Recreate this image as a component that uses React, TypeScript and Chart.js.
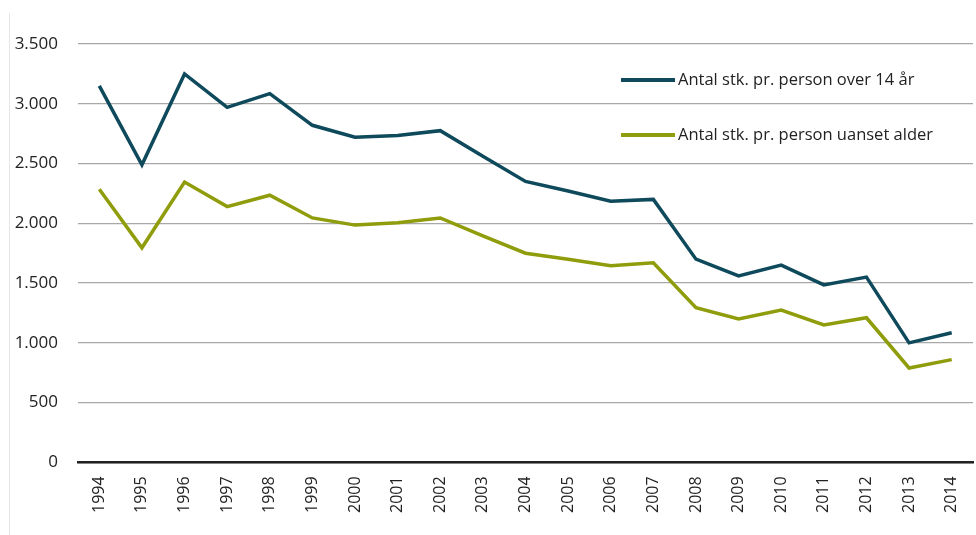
import React, { useEffect, useRef } from "react";
import { Chart, registerables } from "chart.js";

Chart.register(...registerables);

const years = ["1994","1995","1996","1997","1998","1999","2000","2001","2002","2003","2004","2005","2006","2007","2008","2009","2010","2011","2012","2013","2014"];
const over14 = [3150, 2490, 3250, 2970, 3085, 2820, 2720, 2735, 2775, 2560, 2350, 2270, 2185, 2200, 1700, 1560, 1650, 1485, 1550, 1000, 1085];
const allAges = [2285, 1795, 2345, 2140, 2235, 2045, 1985, 2005, 2045, 1895, 1750, 1700, 1645, 1670, 1295, 1200, 1275, 1150, 1210, 790, 860];
const seriesLabels = ["Antal stk. pr. person over 14 år", "Antal stk. pr. person uanset alder"];
const seriesColors = ["#0e4a5b", "#8f9c0b"];

const FONT = "'Open Sans', 'DejaVu Sans', sans-serif";

const fmt = (v: number) => String(v).replace(/\B(?=(\d{3})+(?!\d))/g, ".");

const insideLegend = {
  id: "insideLegend",
  afterDatasetsDraw(chart: any) {
    const { ctx, chartArea } = chart;
    const x0 = chartArea.right - 352;
    const ys = [chartArea.top + 36, chartArea.top + 91];
    ctx.save();
    chart.data.datasets.forEach((ds: any, i: number) => {
      const y = ys[i];
      ctx.strokeStyle = ds.borderColor;
      ctx.lineWidth = 4;
      ctx.beginPath();
      ctx.moveTo(x0, y);
      ctx.lineTo(x0 + 54, y);
      ctx.stroke();
      ctx.fillStyle = "#222";
      ctx.font = `16.5px ${FONT}`;
      ctx.textBaseline = "middle";
      ctx.textAlign = "left";
      ctx.fillText(ds.label, x0 + 57, y);
    });
    ctx.restore();
  },
};

export default function App() {
  const ref = useRef<HTMLCanvasElement | null>(null);
  useEffect(() => {
    if (!ref.current) return;
    const chart = new Chart(ref.current, {
      type: "line",
      data: {
        labels: years,
        datasets: [
          { label: seriesLabels[0], data: over14, borderColor: seriesColors[0], backgroundColor: seriesColors[0], borderWidth: 3.5, pointRadius: 0, tension: 0 },
          { label: seriesLabels[1], data: allAges, borderColor: seriesColors[1], backgroundColor: seriesColors[1], borderWidth: 3.5, pointRadius: 0, tension: 0 },
        ],
      },
      options: {
        animation: false,
        responsive: true,
        maintainAspectRatio: false,
        layout: { padding: { top: 44, left: 13, right: 3, bottom: 8 } },
        plugins: { legend: { display: false }, tooltip: { enabled: false } },
        scales: {
          x: {
            offset: true,
            grid: { display: false, drawTicks: false },
            border: { display: true, color: "#222", width: 2.5 },
            ticks: { color: "#222", font: { family: FONT, size: 16 }, maxRotation: 90, minRotation: 90, padding: 14 },
            afterFit: (s: any) => { s.paddingRight = 0; s.paddingLeft = 0; },
          },
          y: {
            min: 0,
            max: 3500,
            grid: { color: "#a8a8a8", lineWidth: 1.2, drawTicks: false },
            border: { display: false },
            ticks: { stepSize: 500, color: "#222", font: { family: FONT, size: 17 }, padding: 20, callback: (v: any) => fmt(Number(v)) },
            afterFit: (s: any) => { s.width = 65; },
          },
        },
      },
      plugins: [insideLegend],
    });
    return () => chart.destroy();
  }, []);
  return (
    <div style={{ position: "fixed", left: 0, top: 0, width: 976, height: 535, background: "#fff" }}>
      <div style={{ position: "absolute", left: 9, top: 13, width: 1, height: 522, background: "#e6e6e6" }} />
      <canvas ref={ref} />
    </div>
  );
}
